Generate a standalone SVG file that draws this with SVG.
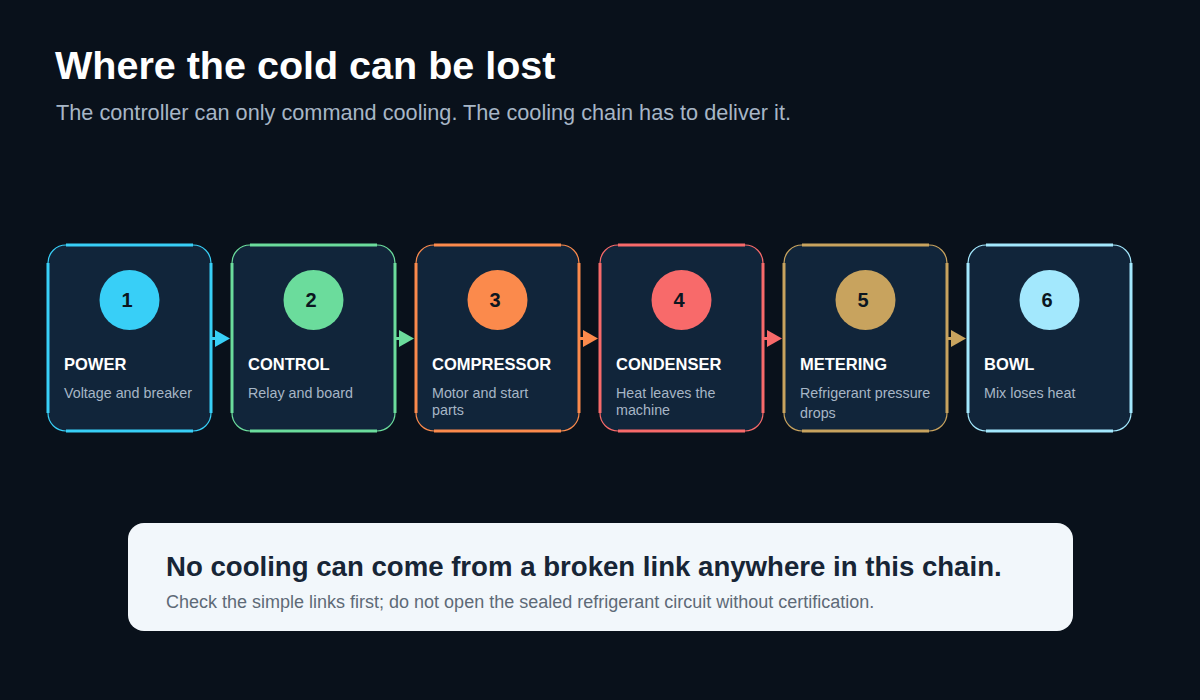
<svg xmlns="http://www.w3.org/2000/svg" width="1200" height="700" viewBox="0 0 1200 700">
<defs>
<style>
.bg{fill:#09111b}
.title{font-family:"Liberation Sans",Arial,sans-serif;font-weight:bold;font-size:39.5px;fill:#ffffff}
.sub{font-family:"Liberation Sans",Arial,sans-serif;font-size:21.7px;fill:#a7b6c6}
.card{fill:#11253a;stroke-width:1.2}
.edge{fill:none;stroke-width:3}
.num{font-family:"Liberation Sans",Arial,sans-serif;font-weight:bold;font-size:20px;fill:#0b1620;text-anchor:middle}
.name{font-family:"Liberation Sans",Arial,sans-serif;font-weight:bold;font-size:16.5px;fill:#ffffff}
.desc{font-family:"Liberation Sans",Arial,sans-serif;font-size:14.3px;fill:#a7b6c6}
.conn{stroke-width:3;fill:none}
.box{fill:#f2f7fb}
.btitle{font-family:"Liberation Sans",Arial,sans-serif;font-weight:bold;font-size:27.6px;fill:#172536}
.bsub{font-family:"Liberation Sans",Arial,sans-serif;font-size:18px;fill:#5e6a77}
</style>
</defs>
<rect class="bg" x="0" y="0" width="1200" height="700"/>
<g id="header">
<text class="title" x="55" y="79">Where the cold can be lost</text>
<text class="sub" x="56" y="120">The controller can only command cooling. The cooling chain has to deliver it.</text>
</g>
<g id="connectors">
<g stroke="#38cff7" fill="#38cff7"><line class="conn" x1="211" y1="338.5" x2="218" y2="338.5"/><polygon points="215,330 230,338.5 215,347" stroke="none"/></g>
<g stroke="#6bdc9c" fill="#6bdc9c"><line class="conn" x1="395" y1="338.5" x2="402" y2="338.5"/><polygon points="399,330 414,338.5 399,347" stroke="none"/></g>
<g stroke="#fb8a4c" fill="#fb8a4c"><line class="conn" x1="579" y1="338.5" x2="586" y2="338.5"/><polygon points="583,330 598,338.5 583,347" stroke="none"/></g>
<g stroke="#f86a6a" fill="#f86a6a"><line class="conn" x1="763" y1="338.5" x2="770" y2="338.5"/><polygon points="767,330 782,338.5 767,347" stroke="none"/></g>
<g stroke="#c8a35e" fill="#c8a35e"><line class="conn" x1="947" y1="338.5" x2="954" y2="338.5"/><polygon points="951,330 966,338.5 951,347" stroke="none"/></g>
</g>
<g id="node1">
<rect class="card" x="48" y="245" width="163" height="186" rx="18" stroke="#38cff7"/>
<path class="edge" stroke="#38cff7" d="M66,245H193M66,431H193M48,263V413M211,263V413"/>
<circle cx="129.5" cy="300" r="30" fill="#38cff7"/>
<text class="num" x="127" y="307">1</text>
<text class="name" x="64" y="370">POWER</text>
<text class="desc" x="64" y="398">Voltage and breaker</text>
</g>
<g id="node2">
<rect class="card" x="232" y="245" width="163" height="186" rx="18" stroke="#6bdc9c"/>
<path class="edge" stroke="#6bdc9c" d="M250,245H377M250,431H377M232,263V413M395,263V413"/>
<circle cx="313.5" cy="300" r="30" fill="#6bdc9c"/>
<text class="num" x="311" y="307">2</text>
<text class="name" x="248" y="370">CONTROL</text>
<text class="desc" x="248" y="398">Relay and board</text>
</g>
<g id="node3">
<rect class="card" x="416" y="245" width="163" height="186" rx="18" stroke="#fb8a4c"/>
<path class="edge" stroke="#fb8a4c" d="M434,245H561M434,431H561M416,263V413M579,263V413"/>
<circle cx="497.5" cy="300" r="30" fill="#fb8a4c"/>
<text class="num" x="495" y="307">3</text>
<text class="name" x="432" y="370">COMPRESSOR</text>
<text class="desc" x="432" y="398">Motor and start</text>
<text class="desc" x="432" y="415">parts</text>
</g>
<g id="node4">
<rect class="card" x="600" y="245" width="163" height="186" rx="18" stroke="#f86a6a"/>
<path class="edge" stroke="#f86a6a" d="M618,245H745M618,431H745M600,263V413M763,263V413"/>
<circle cx="681.5" cy="300" r="30" fill="#f86a6a"/>
<text class="num" x="679" y="307">4</text>
<text class="name" x="616" y="370">CONDENSER</text>
<text class="desc" x="616" y="398">Heat leaves the</text>
<text class="desc" x="616" y="415">machine</text>
</g>
<g id="node5">
<rect class="card" x="784" y="245" width="163" height="186" rx="18" stroke="#c8a35e"/>
<path class="edge" stroke="#c8a35e" d="M802,245H929M802,431H929M784,263V413M947,263V413"/>
<circle cx="865.5" cy="300" r="30" fill="#c8a35e"/>
<text class="num" x="863" y="307">5</text>
<text class="name" x="800" y="370">METERING</text>
<text class="desc" x="800" y="398">Refrigerant pressure</text>
<text class="desc" x="800" y="418">drops</text>
</g>
<g id="node6">
<rect class="card" x="968" y="245" width="163" height="186" rx="18" stroke="#a3e8fd"/>
<path class="edge" stroke="#a3e8fd" d="M986,245H1113M986,431H1113M968,263V413M1131,263V413"/>
<circle cx="1049.5" cy="300" r="30" fill="#a3e8fd"/>
<text class="num" x="1047" y="307">6</text>
<text class="name" x="984" y="370">BOWL</text>
<text class="desc" x="984" y="398">Mix loses heat</text>
</g>
<g id="note">
<rect class="box" x="128" y="523" width="945" height="108" rx="16"/>
<text class="btitle" x="166" y="576">No cooling can come from a broken link anywhere in this chain.</text>
<text class="bsub" x="166" y="608">Check the simple links first; do not open the sealed refrigerant circuit without certification.</text>
</g>
</svg>
